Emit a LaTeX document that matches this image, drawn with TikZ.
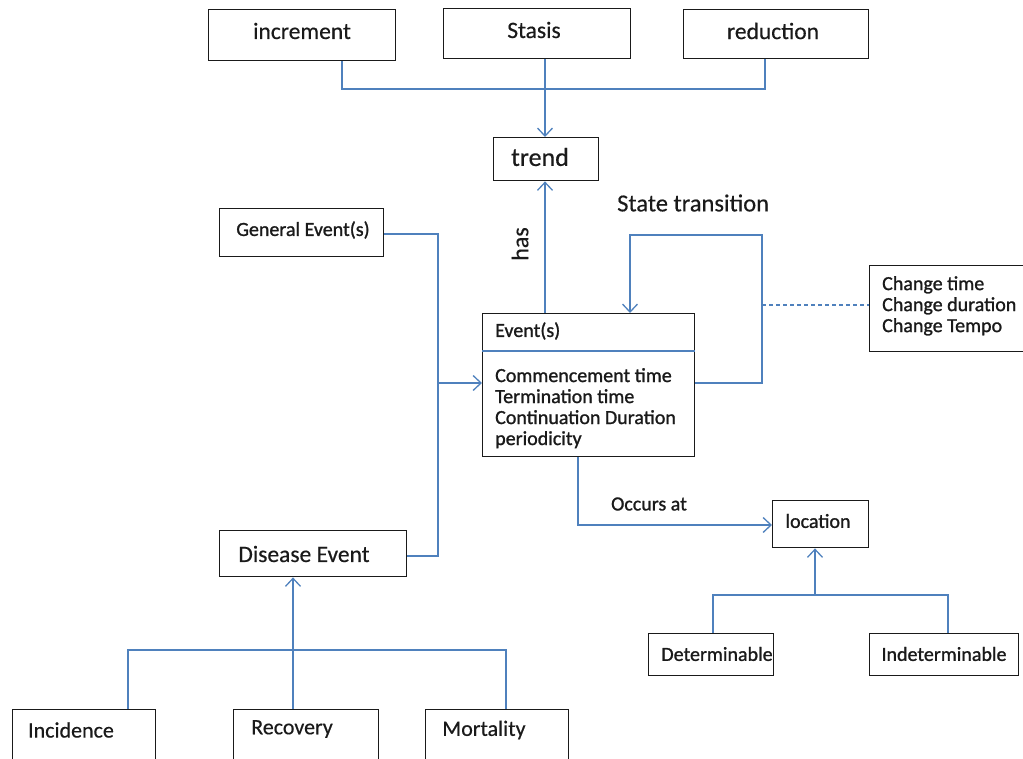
\documentclass[tikz,border=0pt]{standalone}
\usepackage{fontspec}
\setmainfont{Carlito}[FakeBold=0.4]
\newfontfamily\heavy{Carlito}[FakeBold=1.1]
\usetikzlibrary{arrows.meta}
\definecolor{lnblue}{HTML}{4F81BD}
\definecolor{ink}{HTML}{1A1A1A}
\tikzset{
  box/.style={draw=ink, line width=1.4pt, fill=white, inner sep=0pt, anchor=north west},
  lbl/.style={inner sep=0pt, text=ink, font=\fontsize{22}{24}\selectfont},
  big/.style={lbl, font=\fontsize{23.5}{26}\selectfont},
  small/.style={lbl, font=\heavy\fontsize{20}{21}\selectfont},
  conn/.style={draw=lnblue, line width=1.3pt},
  arr/.style={conn, -{Straight Barb[length=8pt,width=15pt,line width=1.3pt]}},
}
\begin{document}
\begin{tikzpicture}[x=1pt,y=-1pt]
\useasboundingbox (0,0) rectangle (1023,759);
% boxes
\node[box, minimum width=187, minimum height=51] (inc) at (208,9) {};
\node[box, minimum width=187, minimum height=50] (sta) at (443,8) {};
\node[box, minimum width=185, minimum height=49] (red) at (683,9) {};
\node[box, minimum width=105, minimum height=43] (trend) at (493,137) {};
\node[box, minimum width=164, minimum height=48] (gen) at (219,208) {};
\node[box, minimum width=212, minimum height=143] (ev) at (482,313) {};
\node[box, minimum width=165, minimum height=86] (chg) at (869,265) {};
\node[box, minimum width=187, minimum height=46] (dis) at (219,530) {};
\node[box, minimum width=143, minimum height=70] (inci) at (12,709) {};
\node[box, minimum width=145, minimum height=70] (reco) at (233,709) {};
\node[box, minimum width=143, minimum height=70] (mort) at (425,709) {};
\node[box, minimum width=96, minimum height=47] (loc) at (772,500) {};
\node[box, minimum width=125, minimum height=42] (det) at (648,633) {};
\node[box, minimum width=149, minimum height=42] (ind) at (869,633) {};
% texts
\node[big] (incT) at (302,31) {increment};
\node[big] (staT) at (534,30) {Stasis};
\node[big] (redT) at (773,31) {reduction};
\node[lbl, font=\fontsize{26}{28}\selectfont] (trendT) at (540,157) {trend};
\node[small] (genT) at (303,230) {General Event(s)};
\node[small, anchor=west] (evH) at (495,331) {Event(s)};
\node[small, anchor=north west, align=left] (evB) at (495,368) {Commencement time\\Termination time\\Continuation Duration\\periodicity};
\node[small, anchor=north west, align=left] (chgT) at (882,276) {Change time\\Change duration\\Change Tempo};
\node[big] (disT) at (304,554) {Disease Event};
\node[lbl] (inciT) at (71,730) {Incidence};
\node[lbl] (recoT) at (292,729) {Recovery};
\node[lbl] (mortT) at (484,730) {Mortality};
\node[small] (locT) at (818,521) {location};
\node[small] (detT) at (717,654) {Determinable};
\node[small] (indT) at (944,654) {Indeterminable};
\node[lbl, anchor=west, font=\fontsize{24.5}{26}\selectfont] (stT) at (617,203) {State transition};
\node[lbl, rotate=90, font=\fontsize{24}{26}\selectfont] (hasT) at (520,244) {has};
\node[small] (occT) at (649,504) {Occurs at};
% divider in event box
\draw[conn] (ev.west |- 0,351) coordinate (dvl) -- (ev.east |- 0,351) coordinate (dvr);
% top connectors
\draw[conn] (inc.south -| 342,0) |- (765,89) -- (red.south -| 765,0);
\draw[arr] (sta.south -| 545,0) -- (trend.north -| 545,0);
% has
\draw[arr] (ev.north -| 545,0) -- (trend.south -| 545,0);
% state transition loop
\coordinate (lp1) at (762,383);
\draw[arr] (ev.east |- lp1) -- (lp1) |- (630,235) -- (ev.north -| 630,0);
\draw[conn, dashed, dash pattern=on 4pt off 3pt] (762,305) -- (chg.west |- 0,305);
% general / disease events
\coordinate (jn) at (438,383);
\draw[conn] (gen.east |- 0,234) -| (jn) |- (dis.east |- 0,556);
\draw[arr] (jn) -- (ev.west |- jn);
% occurs at
\draw[arr] (ev.south -| 578,0) |- (loc.west |- 0,525);
% location children
\coordinate (lj) at (815,595);
\draw[arr] (lj) -- (loc.south -| lj);
\draw[conn] (det.north -| 713,0) |- (948,595) -- (ind.north -| 948,0);
% disease children
\coordinate (dj) at (293,650);
\draw[arr] (reco.north -| dj) -- (dis.south -| dj);
\draw[conn] (inci.north -| 128,0) |- (506,650) -- (mort.north -| 506,0);
\end{tikzpicture}
\end{document}
